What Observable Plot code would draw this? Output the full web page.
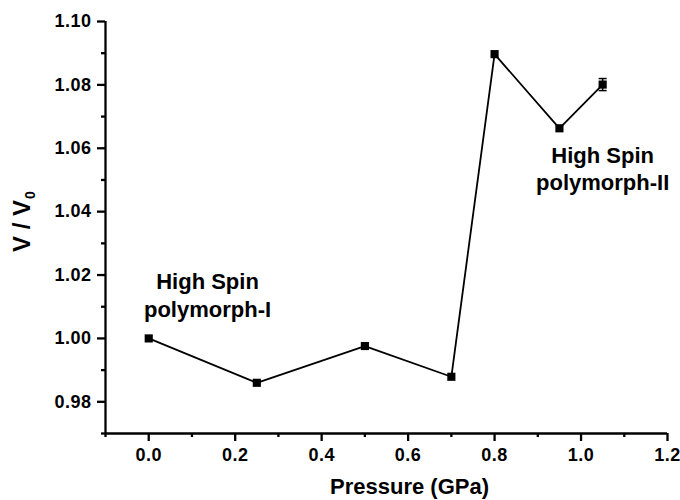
<!DOCTYPE html>
<html><head><meta charset="utf-8">
<script src="https://cdn.jsdelivr.net/npm/d3@7"></script>
<script src="https://cdn.jsdelivr.net/npm/@observablehq/plot@0.6"></script>
<style>
body{margin:0;background:#fff}
svg{display:block}
g[aria-label="x-axis tick label"] text, g[aria-label="y-axis tick label"] text {letter-spacing: 0.5px}
g[aria-label="x-axis tick"] path, g[aria-label="y-axis tick"] path,
g[aria-label="x-axis tick"] line, g[aria-label="y-axis tick"] line,
g.axisline line {stroke:#000 !important; stroke-width:2.3px !important; stroke-opacity:1 !important}
</style>
</head><body><div id="chart"></div>
<script>
// Data
const pressure = [0.00, 0.25, 0.50, 0.70, 0.80, 0.95, 1.05];
const volumeRatio = [1.000, 0.986, 0.9976, 0.9879, 1.0897, 1.0663, 1.0801];
const volumeError = [0, 0, 0, 0, 0, 0, 0.0019];
const xDomain = [-0.1, 1.2];
const yDomain = [0.97, 1.10];
const xTicks = [0.0, 0.2, 0.4, 0.6, 0.8, 1.0, 1.2];
const xMinorTicks = [-0.1, 0.1, 0.3, 0.5, 0.7, 0.9, 1.1];
const yTicks = [0.98, 1.00, 1.02, 1.04, 1.06, 1.08, 1.10];
const yMinorTicks = [0.97, 0.99, 1.01, 1.03, 1.05, 1.07, 1.09];
const annotationText = ["High Spin\npolymorph-I", "High Spin\npolymorph-II"];
const annotationX = [0.136, 1.05];
const annotationY = [1.0068, 1.0467];
const xLabel = "Pressure (GPa)";
const yLabelMain = "V / V";
const yLabelSub = "0";

const data = pressure.map((p, i) => ({p, v: volumeRatio[i], e: volumeError[i]}));
const errs = data.filter(d => d.e > 0);
const annotations = annotationText.map((t, i) => ({t, x: annotationX[i], y: annotationY[i]}));
const font = "'Liberation Sans', Arial, Helvetica, sans-serif";
const capSymbol = {draw(ctx, size) { const w = Math.sqrt(size); ctx.moveTo(-w / 2, 0); ctx.lineTo(w / 2, 0); }};

const chart = Plot.plot({
  width: 680, height: 500,
  marginLeft: 105, marginRight: 13, marginTop: 21, marginBottom: 67,
  style: {fontFamily: font, fontWeight: "bold", background: "white", color: "black"},
  x: {domain: xDomain},
  y: {domain: yDomain},
  marks: [
    Plot.axisX(xTicks, {tickSize: 8, tickPadding: 7, tickFormat: d3.format(".1f"), fontSize: 18, fontWeight: "bold", stroke: "black", strokeWidth: 2.3, label: null}),
    Plot.axisX(xMinorTicks, {tickSize: 4, tickFormat: () => "", stroke: "black", strokeWidth: 2.3, label: null}),
    Plot.axisY(yTicks, {tickSize: 8, tickPadding: 6, tickFormat: d3.format(".2f"), fontSize: 18, fontWeight: "bold", stroke: "black", strokeWidth: 2.3, label: null}),
    Plot.axisY(yMinorTicks, {tickSize: 4, tickFormat: () => "", stroke: "black", strokeWidth: 2.3, label: null}),
    Plot.ruleX([xDomain[0]], {stroke: "black", strokeWidth: 2.3, className: "axisline"}),
    Plot.ruleY([yDomain[0]], {stroke: "black", strokeWidth: 2.3, className: "axisline"}),
    Plot.line(data, {x: "p", y: "v", stroke: "black", strokeWidth: 1.8}),
    Plot.ruleX(errs, {x: "p", y1: d => d.v - d.e, y2: d => d.v + d.e, stroke: "black", strokeWidth: 1.5}),
    Plot.dot(errs, {x: "p", y: d => d.v - d.e, symbol: capSymbol, r: 4.5, stroke: "black", strokeWidth: 1.5}),
    Plot.dot(errs, {x: "p", y: d => d.v + d.e, symbol: capSymbol, r: 4.5, stroke: "black", strokeWidth: 1.5}),
    Plot.dot(data, {x: "p", y: "v", symbol: "square", r: 4.6, fill: "black", stroke: null}),
    Plot.text(annotations, {x: "x", y: "y", text: "t", lineAnchor: "bottom", lineHeight: 1.25, fontSize: 22, fontWeight: "bold", fill: "black"}),
    Plot.text([xLabel], {text: d => d, frameAnchor: "bottom", textAnchor: "middle", lineAnchor: "bottom", dx: 23, dy: 60, fontSize: 22, fontWeight: "bold", fill: "black"}),
    Plot.text([yLabelMain], {text: d => d, frameAnchor: "left", textAnchor: "middle", rotate: -90, dx: -83, dy: -6, fontSize: 24, fontWeight: "bold", fill: "black", className: "ylabel"})
  ]
});
// add subscript as a real tspan to the y label
const yl = chart.querySelector(".ylabel text");
if (yl) {
  const ts = document.createElementNS("http://www.w3.org/2000/svg", "tspan");
  ts.setAttribute("font-size", "14");
  ts.setAttribute("dy", "5");
  ts.setAttribute("dx", "1");
  ts.textContent = yLabelSub;
  yl.appendChild(ts);
}
document.getElementById("chart").append(chart);
</script>
</body></html>
